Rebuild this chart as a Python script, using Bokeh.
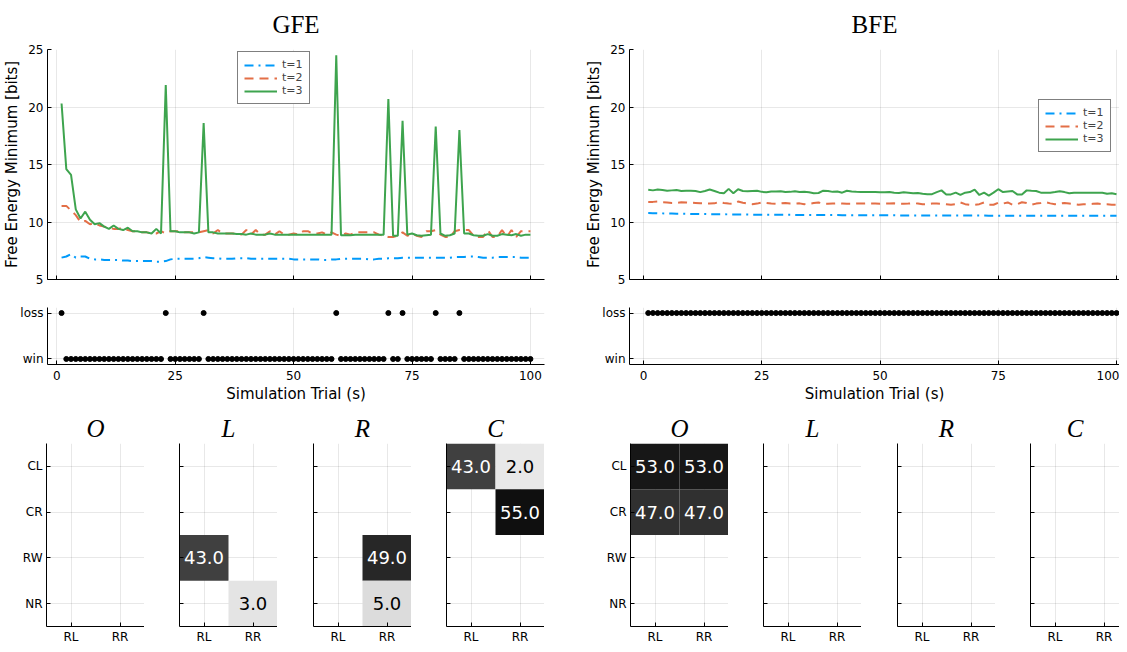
from bokeh.plotting import figure
from bokeh.models import (Range1d, FixedTicker, Legend, LegendItem, ColumnDataSource,
                          LinearColorMapper)
from bokeh.layouts import column, row
from bokeh.embed import file_html
from bokeh.resources import INLINE
from bokeh.core.properties import value

# ---------------- data ----------------
trials = list(range(1, 101))

gfe_t1 = [6.9, 7.0, 7.2, 6.9, 7.0, 7.0, 6.8, 6.75, 6.75, 6.7,
          6.7, 6.7, 6.7, 6.65, 6.65, 6.6, 6.6, 6.6, 6.6, 6.6,
          6.55, 6.55, 6.6, 6.75, 6.8, 6.8, 6.8, 6.8, 6.8, 6.85,
          6.95, 6.9, 6.85, 6.85, 6.8, 6.8, 6.8, 6.85, 6.85, 6.85,
          6.8, 6.8, 6.8, 6.8, 6.8, 6.8, 6.8, 6.8, 6.8, 6.75,
          6.75, 6.75, 6.75, 6.75, 6.75, 6.7, 6.7, 6.75, 6.75, 6.8,
          6.8, 6.8, 6.8, 6.8, 6.8, 6.75, 6.75, 6.8, 6.8, 6.85,
          6.85, 6.85, 6.9, 6.9, 6.9, 6.9, 6.9, 6.9, 6.9, 6.9,
          6.9, 6.9, 6.9, 6.95, 6.95, 6.95, 7.0, 7.0, 6.95, 6.9,
          6.9, 6.9, 6.95, 6.95, 6.95, 6.95, 6.95, 6.9, 6.9, 6.9]

gfe_t2 = [11.4, 11.4, 11.0, 10.6, 10.0, 10.1, 9.8, 9.9, 9.7, 9.6,
          9.5, 9.4, 9.4, 9.5, 9.3, 9.2, 9.2, 9.1, 9.1, 9.0,
          9.0, 9.2, 9.0, 9.2, 9.2, 9.2, 9.1, 9.1, 9.1, 9.1,
          9.2, 9.3, 9.0, 9.3, 9.0, 9.0, 9.0, 9.0, 8.9, 9.3,
          8.9, 9.3, 8.9, 8.9, 9.2, 8.9, 9.2, 8.9, 8.9, 9.0,
          8.9, 9.2, 9.2, 9.0, 9.0, 9.1, 8.9, 9.1, 8.9, 8.8,
          9.0, 8.9, 9.1, 9.1, 9.1, 9.1, 9.1, 8.9, 8.8, 8.7,
          8.7, 8.8, 9.1, 8.8, 9.0, 8.8, 8.7, 9.2, 9.2, 9.3,
          8.9, 8.7, 8.7, 9.2, 9.3, 9.3, 9.3, 8.8, 8.7, 8.7,
          9.3, 8.7, 8.7, 9.3, 8.7, 9.3, 8.7, 9.2, 9.2, 9.2]

gfe_t3 = [20.3, 14.6, 14.1, 11.1, 10.3, 10.9, 10.2, 9.8, 9.9, 9.6,
          9.4, 9.7, 9.4, 9.3, 9.5, 9.2, 9.2, 9.1, 9.1, 9.0,
          9.4, 9.0, 21.9, 9.2, 9.2, 9.1, 9.1, 9.1, 9.0, 9.1,
          18.6, 9.1, 9.1, 9.0, 9.0, 9.0, 9.0, 8.95, 8.95, 8.9,
          9.0, 8.9, 8.9, 8.9, 9.0, 8.9, 8.9, 8.9, 8.9, 8.9,
          8.9, 8.9, 8.9, 8.9, 8.9, 8.9, 8.9, 8.9, 24.5, 8.85,
          8.85, 8.85, 8.9, 8.9, 8.9, 8.9, 8.9, 8.9, 8.9, 20.7,
          8.8, 8.8, 18.8, 8.9, 9.0, 8.85, 8.8, 8.85, 8.9, 18.3,
          9.0, 8.8, 8.85, 9.0, 18.0, 9.0, 9.0, 8.85, 8.8, 8.8,
          8.95, 8.8, 8.8, 8.95, 8.9, 8.85, 8.95, 8.8, 8.9, 8.9]

bfe_t1 = [10.78, 10.77, 10.76, 10.75, 10.74, 10.73, 10.72, 10.72, 10.71, 10.70,
          10.70, 10.69, 10.69, 10.68, 10.68, 10.67, 10.67, 10.66, 10.66, 10.65,
          10.65, 10.65, 10.64, 10.64, 10.64, 10.63, 10.63, 10.63, 10.62, 10.62,
          10.62, 10.62, 10.61, 10.61, 10.61, 10.61, 10.60, 10.60, 10.60, 10.60,
          10.60, 10.59, 10.59, 10.59, 10.59, 10.59, 10.58, 10.58, 10.58, 10.58,
          10.58, 10.58, 10.58, 10.57, 10.57, 10.57, 10.57, 10.57, 10.57, 10.57,
          10.57, 10.56, 10.56, 10.56, 10.56, 10.56, 10.56, 10.56, 10.56, 10.56,
          10.56, 10.56, 10.55, 10.55, 10.55, 10.55, 10.55, 10.55, 10.55, 10.55,
          10.55, 10.55, 10.55, 10.55, 10.55, 10.55, 10.55, 10.55, 10.55, 10.55,
          10.55, 10.55, 10.55, 10.55, 10.55, 10.55, 10.55, 10.55, 10.55, 10.55]

bfe_t2 = [11.75, 11.75, 11.78, 11.72, 11.70, 11.65, 11.65, 11.72, 11.70, 11.68,
          11.65, 11.62, 11.62, 11.60, 11.62, 11.75, 11.65, 11.60, 11.58, 11.78,
          11.68, 11.60, 11.55, 11.60, 11.70, 11.65, 11.60, 11.58, 11.62, 11.65,
          11.60, 11.60, 11.62, 11.55, 11.58, 11.65, 11.70, 11.60, 11.58, 11.60,
          11.62, 11.60, 11.58, 11.58, 11.60, 11.60, 11.62, 11.60, 11.60, 11.58,
          11.60, 11.60, 11.62, 11.60, 11.58, 11.60, 11.65, 11.60, 11.55, 11.55,
          11.60, 11.60, 11.58, 11.55, 11.50, 11.55, 11.70, 11.55, 11.50, 11.50,
          11.55, 11.70, 11.50, 11.50, 11.68, 11.60, 11.70, 11.50, 11.55, 11.72,
          11.65, 11.50, 11.60, 11.65, 11.72, 11.62, 11.55, 11.60, 11.65, 11.60,
          11.55, 11.50, 11.55, 11.55, 11.58, 11.60, 11.55, 11.55, 11.50, 11.50]

bfe_t3 = [12.80, 12.75, 12.82, 12.78, 12.72, 12.75, 12.78, 12.70, 12.72, 12.72,
          12.70, 12.60, 12.70, 12.82, 12.70, 12.55, 12.50, 12.88, 12.50, 12.85,
          12.70, 12.68, 12.70, 12.72, 12.62, 12.58, 12.65, 12.65, 12.68, 12.60,
          12.62, 12.68, 12.60, 12.62, 12.58, 12.50, 12.52, 12.72, 12.70, 12.62,
          12.65, 12.55, 12.72, 12.65, 12.62, 12.60, 12.60, 12.60, 12.60, 12.58,
          12.58, 12.60, 12.55, 12.52, 12.58, 12.55, 12.50, 12.52, 12.45, 12.42,
          12.42, 12.60, 12.75, 12.40, 12.40, 12.55, 12.35, 12.55, 12.60, 12.82,
          12.35, 12.55, 12.30, 12.55, 12.85, 12.60, 12.65, 12.70, 12.40, 12.40,
          12.75, 12.72, 12.70, 12.55, 12.55, 12.55, 12.60, 12.68, 12.60, 12.50,
          12.55, 12.55, 12.55, 12.55, 12.55, 12.55, 12.55, 12.45, 12.50, 12.42]

# 1 = loss, 0 = win
gfe_outcome = [1, 0, 0, 0, 0, 0, 0, 0, 0, 0,
               0, 0, 0, 0, 0, 0, 0, 0, 0, 0,
               0, 0, 1, 0, 0, 0, 0, 0, 0, 0,
               1, 0, 0, 0, 0, 0, 0, 0, 0, 0,
               0, 0, 0, 0, 0, 0, 0, 0, 0, 0,
               0, 0, 0, 0, 0, 0, 0, 0, 1, 0,
               0, 0, 0, 0, 0, 0, 0, 0, 0, 1,
               0, 0, 1, 0, 0, 0, 0, 0, 0, 1,
               0, 0, 0, 0, 1, 0, 0, 0, 0, 0,
               0, 0, 0, 0, 0, 0, 0, 0, 0, 0]
bfe_outcome = [1, 1, 1, 1, 1, 1, 1, 1, 1, 1,
               1, 1, 1, 1, 1, 1, 1, 1, 1, 1,
               1, 1, 1, 1, 1, 1, 1, 1, 1, 1,
               1, 1, 1, 1, 1, 1, 1, 1, 1, 1,
               1, 1, 1, 1, 1, 1, 1, 1, 1, 1,
               1, 1, 1, 1, 1, 1, 1, 1, 1, 1,
               1, 1, 1, 1, 1, 1, 1, 1, 1, 1,
               1, 1, 1, 1, 1, 1, 1, 1, 1, 1,
               1, 1, 1, 1, 1, 1, 1, 1, 1, 1,
               1, 1, 1, 1, 1, 1, 1, 1, 1, 1]
outcome_labels = {0: "win", 1: "loss"}
series_labels = ["t=1", "t=2", "t=3"]
x_ticks = [0, 25, 50, 75, 100]
y_ticks = [5, 10, 15, 20, 25]

# heatmaps: rows CL, CR, RW, NR ; columns RL, RR  (0 = empty)
row_labels = ["CL", "CR", "RW", "NR"]
col_labels = ["RL", "RR"]
panel_titles = ["O", "L", "R", "C"]
gfe_O = [[0, 0], [0, 0], [0, 0], [0, 0]]
gfe_L = [[0, 0], [0, 0], [43, 0], [0, 3]]
gfe_R = [[0, 0], [0, 0], [0, 49], [0, 5]]
gfe_C = [[43, 2], [0, 55], [0, 0], [0, 0]]
bfe_O = [[53, 53], [47, 47], [0, 0], [0, 0]]
bfe_L = [[0, 0], [0, 0], [0, 0], [0, 0]]
bfe_R = [[0, 0], [0, 0], [0, 0], [0, 0]]
bfe_C = [[0, 0], [0, 0], [0, 0], [0, 0]]

# ---------------- styling ----------------
COLORS = ["#009AFA", "#E36F47", "#3EA44E"]
DASHES = ["9 5 2 5", "9 6", "solid"]
SANS = "DejaVu Sans"
SERIF = "Liberation Serif"
GRAYS = ["#%02x%02x%02x" % (g, g, g) for g in range(240, -1, -1)]


def style_axes(p):
    p.outline_line_color = None
    p.background_fill_color = "white"
    for ax in (p.xaxis, p.yaxis):
        ax.axis_line_color = "black"
        ax.axis_line_width = 1
        ax.major_tick_in = 4
        ax.major_tick_out = 0
        ax.minor_tick_line_color = None
        ax.major_tick_line_color = "black"
        ax.major_label_text_font = SANS
        ax.major_label_text_font_size = "12px"
        ax.major_label_text_color = "black"
        ax.major_label_standoff = 4
        ax.axis_label_text_font = SANS
        ax.axis_label_text_font_style = "normal"
        ax.axis_label_text_font_size = "15px"
        ax.axis_label_text_color = "black"
        ax.axis_label_standoff = 4
    p.grid.grid_line_color = "black"
    p.grid.grid_line_alpha = 0.09
    p.grid.grid_line_width = 1


def hide_labels(ax):
    ax.major_label_text_color = None
    ax.major_label_text_font_size = "0px"
    ax.major_label_standoff = 0


def main_fig(t1, t2, t3, xr, fw, left, right, title, legend_loc):
    p = figure(frame_width=fw, frame_height=230, x_range=xr, y_range=Range1d(5, 25),
               min_border_left=left, min_border_right=right, min_border_top=48,
               min_border_bottom=10, title=title, output_backend="svg",
               toolbar_location=None)
    style_axes(p)
    p.title.text_font = SERIF
    p.title.text_font_style = "normal"
    p.title.text_font_size = "25px"
    p.title.text_color = "black"
    p.title.align = "center"
    p.title.vertical_align = "top"
    p.title.standoff = 20
    p.xaxis.ticker = FixedTicker(ticks=x_ticks)
    hide_labels(p.xaxis)
    p.yaxis.ticker = FixedTicker(ticks=y_ticks)
    p.yaxis.axis_label = "Free Energy Minimum [bits]"
    rs = []
    for ys, c, d in zip((t1, t2, t3), COLORS, DASHES):
        rs.append(p.line(trials, ys, line_color=c, line_width=2, line_dash=d))
    leg = Legend(items=[LegendItem(label=l, renderers=[r]) for l, r in zip(series_labels, rs)],
                 location=legend_loc)
    leg.border_line_color = "black"
    leg.border_line_width = 1
    leg.background_fill_alpha = 1
    leg.label_text_font = SANS
    leg.label_text_font_size = "11px"
    leg.glyph_width = 33
    leg.glyph_height = 12
    leg.label_height = 12
    leg.label_standoff = 5
    leg.padding = 6
    leg.spacing = -1
    leg.margin = 0
    p.add_layout(leg)
    return p


def strip_fig(outcome, xr, fw, left, right):
    p = figure(frame_width=fw, frame_height=57, x_range=xr, y_range=Range1d(-0.12, 1.12),
               min_border_left=left, min_border_right=right, min_border_top=18,
               min_border_bottom=38, output_backend="svg", toolbar_location=None)
    style_axes(p)
    p.scatter(trials, outcome, size=5, color="black")
    p.xaxis.ticker = FixedTicker(ticks=x_ticks)
    p.xaxis.major_label_standoff = 6
    p.xaxis.axis_label_standoff = 2
    p.yaxis.ticker = FixedTicker(ticks=[0, 1])
    p.yaxis.major_label_overrides = outcome_labels
    p.xaxis.axis_label = "Simulation Trial (s)"
    return p


def heat_fig(mat, title, left, fw, show_ylab):
    xend = 0.5 + fw / 49.0
    p = figure(frame_width=fw, frame_height=183, x_range=Range1d(0.5, xend),
               y_range=Range1d(0.5, 4.5), min_border_left=left, min_border_right=0,
               min_border_top=38, min_border_bottom=18, title=title,
               output_backend="svg", toolbar_location=None)
    style_axes(p)
    p.title.text_font = SERIF
    p.title.text_font_style = "italic"
    p.title.text_font_size = "25px"
    p.title.text_color = "black"
    p.title.align = "center"
    p.title.standoff = 3
    p.xaxis.major_label_standoff = 3
    xs, ys, vals, labs, tcs = [], [], [], [], []
    for i, r in enumerate(mat):
        for j, v in enumerate(r):
            if v > 0:
                xs.append(j + 1)
                ys.append(len(row_labels) - i)
                vals.append(v)
                labs.append("%.1f" % v)
                tcs.append("white" if v > 25 else "black")
    src = ColumnDataSource(dict(x=xs, y=ys, v=vals, lab=labs, tc=tcs))
    mapper = LinearColorMapper(palette=GRAYS, low=0, high=58.7)
    p.rect(x="x", y="y", width=1, height=1, source=src,
           fill_color={"field": "v", "transform": mapper}, line_color=None)
    p.text(x="x", y="y", text="lab", source=src, text_align="center",
           text_baseline="middle", text_font=value(SANS), text_font_size="18px",
           text_color="tc")
    p.xaxis.ticker = FixedTicker(ticks=[1, 2])
    p.xaxis.major_label_overrides = {1: col_labels[0], 2: col_labels[1]}
    p.yaxis.ticker = FixedTicker(ticks=[4, 3, 2, 1])
    if show_ylab:
        p.yaxis.major_label_overrides = {4 - k: lab for k, lab in enumerate(row_labels)}
    else:
        hide_labels(p.yaxis)
    return p


# ---------------- top row ----------------
gfe_xr = Range1d(-1.97, 102.97)
bfe_xr = Range1d(-2.96, 100.63)

g_main = main_fig(gfe_t1, gfe_t2, gfe_t3, gfe_xr, 497, 47, 31, "GFE", (190, 175))
g_strip = strip_fig(gfe_outcome, gfe_xr, 497, 47, 31)
b_main = main_fig(bfe_t1, bfe_t2, bfe_t3, bfe_xr, 490, 54, 0, "BFE", (409, 127))
b_strip = strip_fig(bfe_outcome, bfe_xr, 490, 54, 0)

top = row(column(g_main, g_strip), column(b_main, b_strip))

# ---------------- heatmaps ----------------
mats = [gfe_O, gfe_L, gfe_R, gfe_C, bfe_O, bfe_L, bfe_R, bfe_C]
lefts = [46, 35, 36, 35, 86, 35, 36, 35]
fws = [98, 98, 98, 98, 98, 98, 98, 89]
heats = []
for k, (m, l, w) in enumerate(zip(mats, lefts, fws)):
    heats.append(heat_fig(m, panel_titles[k % 4], l, w, k % 4 == 0))

page = column(top, row(*heats))

open("out.html", "w").write(file_html(page, INLINE))
